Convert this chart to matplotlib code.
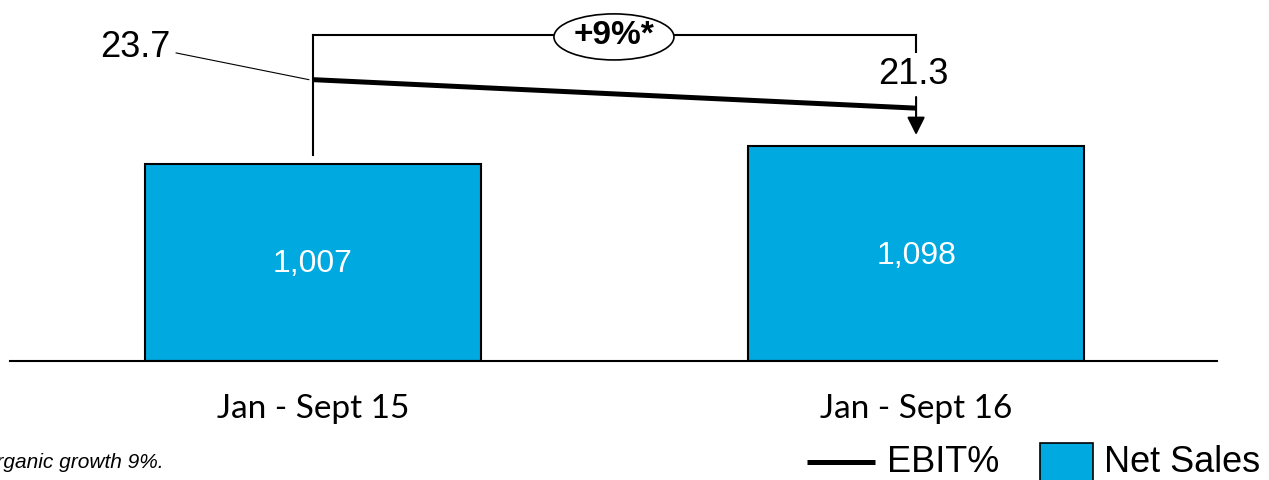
import matplotlib
matplotlib.use("Agg")
import matplotlib.pyplot as plt
from matplotlib.patches import Ellipse, Rectangle
from matplotlib.lines import Line2D

# Data
periods = ["Jan - Sept 15", "Jan - Sept 16"]
net_sales = [1007, 1098]
ebit_pct = [23.7, 21.3]
growth_label = "+9%*"
footnote = "*Organic growth 9%."

BLUE = "#00A9E0"
W, H = 1269, 480

plt.rcParams["font.family"] = ["Liberation Sans", "DejaVu Sans"]

fig = plt.figure(figsize=(W / 100, H / 100), dpi=100)


def fx(px):
    return px / W


def fy(py):
    return 1 - py / H


# Bar axis: baseline at y=361 px, spanning x=10..1217 px
ax = fig.add_axes([fx(10), fy(361), fx(1207), 361 / H])
x = list(range(len(periods)))
ax.bar(x, net_sales, width=0.557, color=BLUE, edgecolor="black", linewidth=1.5, zorder=2)
ax.set_xlim(-0.5025, 1.499)
ax.set_ylim(0, 1846)
for xi, v in zip(x, net_sales):
    ax.text(xi, v / 2 - 10, f"{v:,}", ha="center", va="center", color="white", fontsize=23, zorder=3)

for s in ["top", "left", "right"]:
    ax.spines[s].set_visible(False)
ax.spines["bottom"].set_linewidth(1.5)
ax.set_yticks([])
ax.set_xticks(x)
ax.set_xticklabels(periods, fontsize=24, family=["Lato", "DejaVu Sans"])
ax.tick_params(axis="x", length=0, pad=24)

# EBIT% axis sharing the same baseline
ax2 = ax.twinx()
ax2.set_ylim(0, 30.41)
ax2.set_yticks([])
for s in ax2.spines.values():
    s.set_visible(False)
ax2.plot(x, ebit_pct, color="black", linewidth=3.6, solid_capstyle="butt", zorder=4)

# Growth bracket
top = 27.46
ax2.plot([0, 0], [17.35, top], color="black", lw=1.5, zorder=3)
ax2.plot([0, 1], [top, top], color="black", lw=1.5, zorder=3)
ax2.plot([1, 1], [top, 26.0], color="black", lw=1.5, zorder=3)
ax2.add_patch(Ellipse((0.499, 27.3), width=0.199, height=3.88, facecolor="white",
                      edgecolor="black", lw=1.2, zorder=5))
ax2.text(0.499, 27.45, growth_label, ha="center", va="center", fontsize=24,
         fontweight="bold", zorder=6)

# EBIT% value labels
ax2.text(-0.237, 26.45, f"{ebit_pct[0]}", ha="right", va="center", fontsize=26)
ax2.plot([-0.227, -0.007], [25.95, ebit_pct[0]], color="black", lw=0.8)
ax2.text(0.995, 24.1, f"{ebit_pct[1]}", ha="center", va="center", fontsize=26)
ax2.annotate("", xy=(1, 19.04), xytext=(1, 22.24),
             arrowprops=dict(arrowstyle="-|>,head_length=0.6,head_width=0.3",
                             mutation_scale=18, lw=1.5, color="black",
                             shrinkA=0, shrinkB=0))

# Legend
fig.add_artist(Line2D([fx(807), fx(875)], [fy(462), fy(462)], color="black", lw=3.6,
                      solid_capstyle="butt"))
fig.text(fx(887), fy(463), "EBIT%", ha="left", va="center", fontsize=26)
fig.add_artist(Rectangle((fx(1040), fy(492)), fx(53), 49 / H, facecolor=BLUE,
                         edgecolor="black", lw=1.2))
fig.text(fx(1104), fy(463), "Net Sales", ha="left", va="center", fontsize=26)

# Footnote
fig.text(fx(163), fy(463), footnote, ha="right", va="center", fontsize=15, style="italic")

fig.savefig("out.png", dpi=100)
